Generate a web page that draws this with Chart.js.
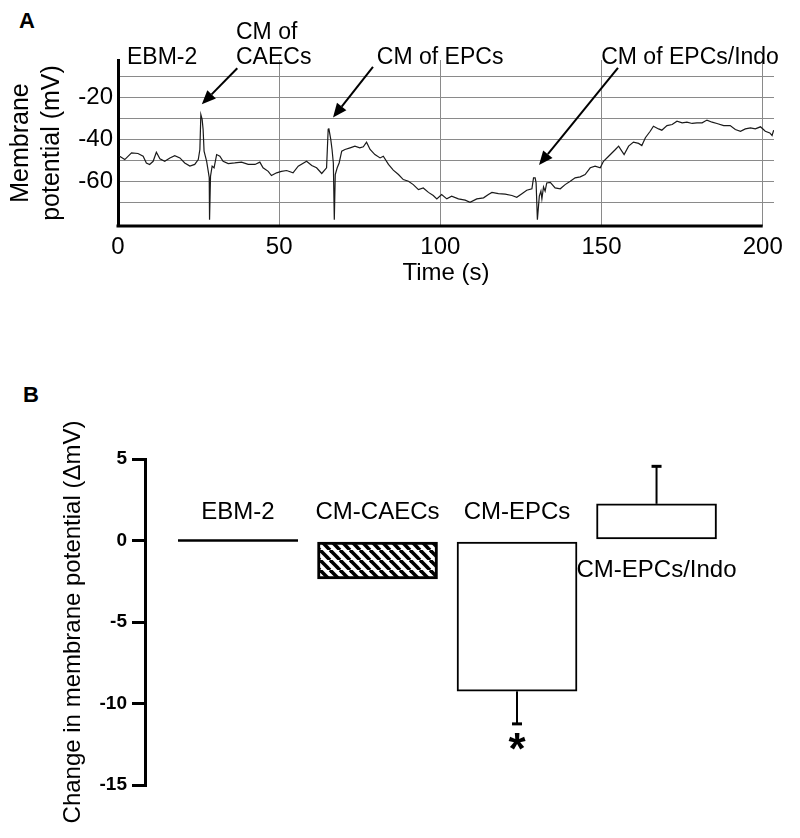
<!DOCTYPE html>
<html><head><meta charset="utf-8">
<script src="https://cdn.jsdelivr.net/npm/chart.js@4.4.1/dist/chart.umd.min.js"></script>
<style>
html,body{margin:0;padding:0;background:#fff;}
body{width:800px;height:838px;position:relative;overflow:hidden;font-family:'Liberation Sans',Arial,sans-serif;}
canvas{position:absolute;left:0;}
#cA{top:0;} #cB{top:380px;}
.panel{position:absolute;font-weight:bold;font-size:22px;line-height:22px;color:#000;font-family:'Liberation Sans',Arial,sans-serif;}
</style></head><body>
<div class="panel" style="left:19px;top:10px">A</div>
<div class="panel" style="left:23px;top:384px">B</div>
<canvas id="cA" width="800" height="300"></canvas>
<canvas id="cB" width="800" height="458"></canvas>
<script>
// ---------- Panel A data (membrane potential trace) ----------
const traceTimeS = [0.5,2.1,4.2,6.2,7.8,8.8,9.8,10.9,11.9,13.0,14.5,16.1,17.6,19.2,20.7,22.3,23.8,24.9,25.4,25.7,26.1,26.4,26.7,27.5,28.0,28.3,28.4,28.7,29.2,29.8,30.6,31.6,32.6,34.2,36.2,38.3,40.4,42.5,44.0,45.0,46.6,47.6,49.2,50.7,52.3,54.3,55.9,58.5,60.1,61.6,63.2,64.7,65.2,65.4,66.0,66.4,66.8,67.1,67.4,68.0,68.6,69.4,70.4,72.0,73.5,75.0,76.1,77.1,78.2,79.7,81.3,82.3,83.9,85.4,87.0,88.5,90.1,91.6,93.2,94.7,96.3,97.8,98.9,100.4,102.0,103.5,105.6,107.7,109.2,111.3,113.4,114.9,116.0,118.0,120.1,122.2,123.7,125.3,126.8,128.4,128.9,129.4,129.7,130.1,130.7,131.2,131.5,132.0,132.5,133.0,134.1,135.6,137.2,138.7,140.3,141.8,143.4,144.9,146.5,148.0,149.6,150.6,152.2,154.3,155.3,156.3,157.0,158.4,159.9,161.5,162.5,163.6,165.1,166.1,167.7,168.7,170.3,171.9,173.4,175.0,176.5,178.1,179.6,181.2,182.7,184.3,185.8,187.9,189.9,191.5,193.1,194.6,196.2,197.7,199.3,200.8,202.2,202.9,203.4];
const traceMV = [-47.8,-49.4,-46.2,-46.5,-47.8,-51.0,-51.7,-50.2,-45.9,-49.0,-50.2,-48.6,-47.5,-48.6,-51.0,-52.5,-51.7,-49.4,-44.6,-28.0,-30.3,-35.0,-45.4,-50.2,-55.0,-58.0,-78.0,-57.3,-52.5,-53.3,-47.0,-47.8,-50.2,-51.3,-51.0,-50.6,-51.7,-51.7,-50.6,-53.3,-55.0,-57.0,-55.7,-55.0,-54.6,-55.7,-52.5,-50.2,-52.2,-53.3,-56.0,-53.3,-35.0,-34.5,-39.8,-44.6,-51.0,-78.0,-56.5,-53.3,-51.0,-45.4,-44.6,-43.8,-43.0,-43.8,-43.3,-41.1,-44.6,-47.0,-48.6,-47.8,-51.7,-54.4,-56.5,-58.9,-59.7,-61.3,-63.7,-62.9,-65.0,-66.5,-68.1,-66.0,-68.1,-66.8,-68.1,-68.7,-69.7,-68.1,-67.6,-66.0,-65.0,-65.6,-65.8,-66.5,-67.3,-65.6,-64.0,-63.3,-58.1,-58.1,-60.5,-78.0,-66.8,-64.4,-68.1,-62.4,-64.4,-60.5,-60.2,-62.9,-63.3,-61.3,-59.7,-58.1,-57.6,-56.5,-53.3,-52.5,-53.3,-50.2,-47.8,-44.6,-43.0,-45.4,-47.0,-43.0,-41.1,-41.7,-42.7,-39.0,-35.9,-33.5,-34.8,-35.4,-33.2,-32.7,-31.1,-31.9,-31.6,-32.2,-31.9,-31.9,-30.6,-31.6,-32.2,-33.2,-33.2,-35.1,-35.9,-34.8,-34.3,-34.8,-33.8,-35.9,-36.7,-37.9,-35.4];
const yTickLabelsA = [-20, -40, -60];

// Annotations of panel A, in data units (time s, mV)
const noteTexts = [['EBM-2'], ['CM of', 'CAECs'], ['CM of EPCs'], ['CM of EPCs/Indo']];
const noteAt = [[2.8, -1.0], [36.6, -1.0], [80.3, -1.0], [149.9, -1.0]];
const arrowFrom = [[37.0, -5.9], [79.1, -5.3], [155.1, -5.8]];
const arrowTo = [[26.0, -23.1], [66.7, -29.4], [130.6, -52.0]];

// ---------- Panel B data ----------
const barCategories = ['EBM-2', 'CM-CAECs', 'CM-EPCs', 'CM-EPCs/Indo'];
const barMeanMV = [0, -2.35, -9.25, 2.25];
const barErrMV = [0, 0, 2.0, 2.3];
const barSignif = ['', '', '*', ''];

const fontFam = "'Liberation Sans', Arial, Helvetica, sans-serif";
Chart.defaults.font.family = fontFam;
Chart.defaults.color = '#000';

const traceData = traceTimeS.map((t, i) => ({x: t, y: traceMV[i]}));

const annotA = {
  id: 'annotA',
  afterDraw(chart) {
    const {ctx, scales: {x, y}, chartArea} = chart;
    ctx.save();
    ctx.strokeStyle = '#000'; ctx.fillStyle = '#000';
    const t = x.ticks;
    ctx.lineWidth = 3;
    ctx.beginPath();
    ctx.moveTo(x.getPixelForValue(t[0].value) - 1.5, chartArea.bottom);
    ctx.lineTo(x.getPixelForValue(t[t.length - 1].value), chartArea.bottom);
    ctx.stroke();
    ctx.font = '23px ' + fontFam; ctx.textAlign = 'left'; ctx.textBaseline = 'middle';
    noteTexts.forEach((lines, i) => {
      const px = x.getPixelForValue(noteAt[i][0]), py = y.getPixelForValue(noteAt[i][1]);
      lines.forEach((s, j) => ctx.fillText(s, px, py - (lines.length - 1 - j) * 25));
    });
    arrowFrom.forEach((f, i) => {
      const x0 = x.getPixelForValue(f[0]), y0 = y.getPixelForValue(f[1]);
      const x1 = x.getPixelForValue(arrowTo[i][0]), y1 = y.getPixelForValue(arrowTo[i][1]);
      const a = Math.atan2(y1 - y0, x1 - x0), L = 14, W = 6;
      const bx = x1 - L * Math.cos(a), by = y1 - L * Math.sin(a);
      ctx.lineWidth = 2;
      ctx.beginPath(); ctx.moveTo(x0, y0); ctx.lineTo(bx, by); ctx.stroke();
      ctx.beginPath(); ctx.moveTo(x1, y1);
      ctx.lineTo(bx + W * Math.sin(a), by - W * Math.cos(a));
      ctx.lineTo(bx - W * Math.sin(a), by + W * Math.cos(a));
      ctx.closePath(); ctx.fill();
    });
    ctx.restore();
  }
};

new Chart(document.getElementById('cA'), {
  type: 'line',
  data: {datasets: [{data: traceData, borderColor: '#1a1a1a', borderWidth: 1.2, pointRadius: 0, tension: 0, fill: false}]},
  options: {
    responsive: false, animation: false, devicePixelRatio: 1,
    layout: {padding: {top: 60, right: 26, bottom: 10, left: 0}},
    plugins: {legend: {display: false}, tooltip: {enabled: false}},
    scales: {
      x: {type: 'linear', min: 0, max: 203.5,
        afterFit(s) { s.height = 64; },
        border: {display: false},
        grid: {color: '#8a8a8a', lineWidth: 1, drawTicks: false},
        ticks: {stepSize: 50, includeBounds: false, padding: 7, font: {size: 24}, color: '#000', maxRotation: 0, autoSkip: false},
        title: {display: true, text: 'Time (s)', font: {size: 24}, color: '#000', padding: {top: 0, bottom: 2.6}}},
      y: {type: 'linear', min: -81, max: -2,
        afterFit(s) { s.width = 118; },
        border: {display: true, color: '#000', width: 3},
        grid: {color: c => (c.index === 0 ? 'rgba(0,0,0,0)' : '#8a8a8a'), lineWidth: 1, drawTicks: false},
        ticks: {stepSize: 10, includeBounds: false, autoSkip: false, padding: 5, font: {size: 24}, color: '#000',
          callback: v => yTickLabelsA.includes(v) ? String(v) : ''},
        title: {display: true, text: ['Membrane', 'potential (mV)'], font: {size: 25, lineHeight: 1.25}, color: '#000', padding: {top: 5, bottom: 0}}}
    }
  },
  plugins: [annotA]
});

// ---------- Panel B ----------
const ctxB = document.getElementById('cB').getContext('2d');
function makeHatch(ctx) {
  const c = document.createElement('canvas'); c.width = 10; c.height = 10;
  const g = c.getContext('2d');
  g.fillStyle = '#fff'; g.fillRect(0, 0, 10, 10);
  g.strokeStyle = '#000'; g.lineWidth = 3.6;
  for (const o of [-10, 0, 10]) { g.beginPath(); g.moveTo(o, 0); g.lineTo(o + 10, 10); g.stroke(); }
  return ctx.createPattern(c, 'repeat');
}
const hatch = makeHatch(ctxB);
const barData = barCategories.map((c, i) => ({x: i + 1, y: barMeanMV[i]}));

const barExtras = {
  id: 'barExtras',
  afterDatasetsDraw(chart) {
    const {ctx, scales: {y}} = chart;
    const meta = chart.getDatasetMeta(0);
    const zero = y.getPixelForValue(0);
    ctx.save(); ctx.fillStyle = '#000'; ctx.strokeStyle = '#000';
    meta.data.forEach((bar, i) => {
      const v = barMeanMV[i], half = bar.width / 2;
      if (v === 0) {
        ctx.lineWidth = 2.5; ctx.beginPath();
        ctx.moveTo(bar.x - half, zero); ctx.lineTo(bar.x + half, zero); ctx.stroke();
      }
      const e = barErrMV[i];
      let endPx = bar.y;
      if (e > 0) {
        const dir = v < 0 ? -1 : 1;
        endPx = y.getPixelForValue(v + dir * e);
        ctx.lineWidth = 2; ctx.beginPath();
        ctx.moveTo(bar.x, bar.y); ctx.lineTo(bar.x, endPx); ctx.stroke();
        ctx.lineWidth = 3; ctx.beginPath();
        ctx.moveTo(bar.x - 5, endPx); ctx.lineTo(bar.x + 5, endPx); ctx.stroke();
      }
      ctx.font = '24px ' + fontFam; ctx.textAlign = 'center'; ctx.textBaseline = 'middle';
      ctx.fillText(barCategories[i], bar.x, v > 0 ? zero + 30 : zero - 28);
      if (barSignif[i]) {
        ctx.font = 'bold 44px ' + fontFam;
        ctx.fillText(barSignif[i], bar.x, endPx + 28);
      }
    });
    ctx.restore();
  }
};

new Chart(ctxB, {
  type: 'bar',
  data: {datasets: [{data: barData, backgroundColor: ['#fff', hatch, '#fff', '#fff'], borderColor: '#000',
    borderWidth: [0, 3, 2, 2], borderSkipped: false, barThickness: 120}]},
  options: {
    responsive: false, animation: false, devicePixelRatio: 1,
    layout: {padding: {top: 79, right: 20, bottom: 53, left: 0}},
    plugins: {legend: {display: false}, tooltip: {enabled: false}},
    scales: {
      x: {type: 'linear', display: false, offset: false, min: 0.3333, max: 4.885},
      y: {min: -15, max: 5,
        afterFit(s) { s.width = 145; },
        border: {display: true, color: '#000', width: 3},
        grid: {drawOnChartArea: false, drawTicks: true, tickLength: 13, color: '#000', lineWidth: 3},
        ticks: {stepSize: 5, padding: 5, font: {size: 19, weight: 'bold'}, color: '#000'},
        title: {display: true, text: 'Change in membrane potential (\u0394mV)', font: {size: 24}, color: '#000', padding: {top: 58.6, bottom: 0}}}
    }
  },
  plugins: [barExtras]
});
</script>
</body></html>
